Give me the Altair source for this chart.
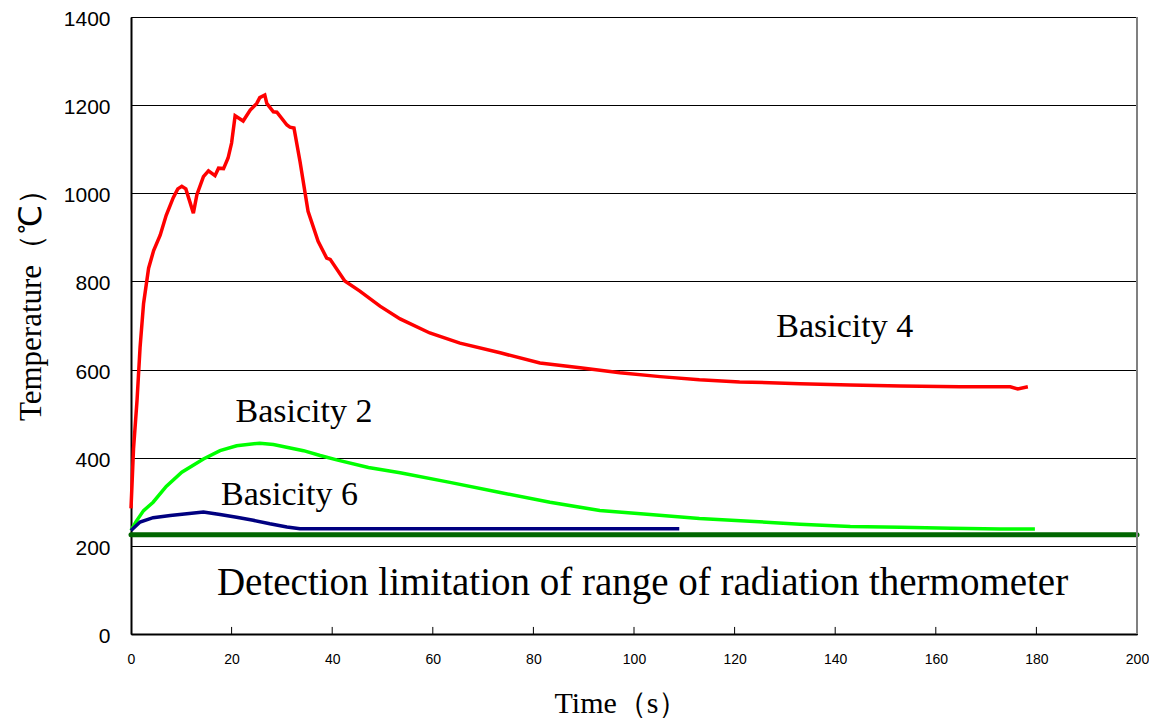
import altair as alt
import pandas as pd

# ---- data ----
t_red = [0, 0.5, 1.2, 1.8, 2.5, 3.5, 4.5, 5.8, 7.0, 8.4, 9.3, 10.1, 10.9, 12.4, 13.1, 14.4, 15.4,
         16.7, 17.4, 18.4, 19.3, 20.0, 20.7, 22.3, 23.7, 25.0, 25.6, 26.6, 27.0, 28.3, 29.0, 31.0,
         31.6, 32.4, 33.6, 35.2, 37.2, 38.9, 39.6, 42.5, 45.5, 49.5, 53.5, 59.4, 65.4, 73.4, 81.3,
         89.3, 97.2, 105.2, 113, 121, 133, 143, 153, 164.8, 174.8, 176.3, 178.3]
T_red = [285, 420, 530, 650, 750, 830, 870, 905, 950, 990, 1010, 1016, 1010, 955, 997, 1038, 1051,
         1040, 1057, 1056, 1080, 1114, 1176, 1164, 1189, 1204, 1217, 1223, 1204, 1185, 1184, 1155,
         1150, 1148, 1072, 959, 891, 853, 850, 801, 778, 744, 715, 683, 660, 638, 615,
         604, 593, 584, 577, 572, 568, 565, 563, 561, 561, 556, 561]

t_green = [0, 1, 2.5, 4.4, 7, 10.1, 14.4, 17.7, 21, 25.6, 28.3, 34.3, 37.6, 40.9, 47.2, 53.5, 63.4,
           73.4, 83.3, 93.2, 103.2, 113, 123, 133, 143, 153, 163, 172.8, 179.7]
T_green = [235, 255, 280, 299, 335, 367, 397, 416, 427, 433, 430, 416, 405, 395, 378, 366, 344,
           321, 299, 280, 271, 262, 256, 249, 244, 242, 240, 238, 238]

t_navy = [0, 1.8, 4.4, 7.8, 11.1, 14.4, 17.7, 21, 24.3, 27.6, 31, 33.6, 40, 109]
T_navy = [235, 254, 264, 269, 273, 277, 271, 265, 258, 250, 243, 239, 239, 239]

series_names = ["Basicity 4", "Basicity 2", "Basicity 6"]
series_colors = ["#FF0000", "#00FF00", "#000080"]

limit_t = [0, 200]
limit_T = [225, 225]

x_ticks = [0, 20, 40, 60, 80, 100, 120, 140, 160, 180, 200]
y_ticks = [0, 200, 400, 600, 800, 1000, 1200, 1400]

label_text = ["Basicity 4", "Basicity 2", "Basicity 6",
              "Detection limitation of range of radiation thermometer"]
label_t = [141.9, 34.4, 31.5, 101.7]
label_T = [674, 482, 292, 88]
label_size = [34, 34, 34, 39]

# ---- tables ----
rows = []
for name, ts, Ts in zip(series_names, [t_red, t_green, t_navy], [T_red, T_green, T_navy]):
    for a, b in zip(ts, Ts):
        rows.append({"series": name, "t": a, "T": b})
lines_df = pd.DataFrame(rows)
limit_df = pd.DataFrame({"t": limit_t, "T": limit_T})
labels_df = pd.DataFrame({"text": label_text, "t": label_t, "T": label_T, "size": label_size})
ticks_df = pd.DataFrame({"t": x_ticks[1:-1]})

xscale = alt.Scale(domain=[0, 200], nice=False, zero=False)
yscale = alt.Scale(domain=[0, 1400], nice=False)

x_axis = alt.Axis(values=x_ticks, title="Time（s）", grid=False, ticks=False, format="d",
                  labelFlush=False, labelOverlap=False,
                  labelFont="Liberation Sans", labelFontSize=14, labelColor="black",
                  labelPadding=18, domainColor="black", domainWidth=2,
                  titleFont="Liberation Serif", titleFontSize=30, titleFontWeight="normal",
                  titleColor="black", titleX=490, titleY=69, titleBaseline="middle",
                  titleAlign="center")
y_axis = alt.Axis(values=y_ticks, title="Temperature（℃）", grid=True, gridColor="black",
                  gridWidth=1, gridOpacity=1, ticks=False, format="d",
                  labelFlush=False, labelOverlap=False, labelOffset=2.5,
                  labelFont="Liberation Sans", labelFontSize=21, labelColor="black",
                  labelPadding=21, domainColor="black", domainWidth=2,
                  titleFont="Liberation Serif", titleFontSize=31, titleFontWeight="normal",
                  titleColor="black", titleX=-100, titleY=280, titleAngle=270,
                  titleBaseline="middle", titleAlign="center")

base_axes = alt.Chart(lines_df).mark_line(strokeWidth=3.5).encode(
    x=alt.X("t:Q", scale=xscale, axis=x_axis),
    y=alt.Y("T:Q", scale=yscale, axis=y_axis),
    color=alt.Color("series:N", scale=alt.Scale(domain=series_names, range=series_colors),
                    legend=None),
    detail="series:N",
)

limit = alt.Chart(limit_df).mark_line(strokeWidth=5, color="#006600", strokeCap="round").encode(
    x=alt.X("t:Q", scale=xscale),
    y=alt.Y("T:Q", scale=yscale),
)

inner_ticks = alt.Chart(ticks_df).mark_rule(color="black", strokeWidth=1).encode(
    x=alt.X("t:Q", scale=xscale),
    y=alt.datum(0),
    y2=alt.datum(16),
)

right_border = alt.Chart(ticks_df).mark_rule(color="#808080", strokeWidth=2).encode(
    x=alt.datum(200),
    y=alt.datum(0),
    y2=alt.datum(1400),
)

texts = alt.Chart(labels_df).mark_text(font="Liberation Serif", color="black",
                                       align="center", baseline="alphabetic").encode(
    x=alt.X("t:Q", scale=xscale),
    y=alt.Y("T:Q", scale=yscale),
    text="text:N",
    size=alt.Size("size:Q", scale=None, legend=None),
)

chart = alt.layer(base_axes, limit, inner_ticks, right_border, texts).properties(
    width=1006,
    height=617,
    autosize=alt.AutoSizeParams(type="none"),
    padding={"left": 123, "top": 9, "right": 12, "bottom": 84},
    background="white",
).configure_view(stroke="black", strokeWidth=1)

chart.save("out.html", embed_options={"renderer": "svg", "actions": False})
